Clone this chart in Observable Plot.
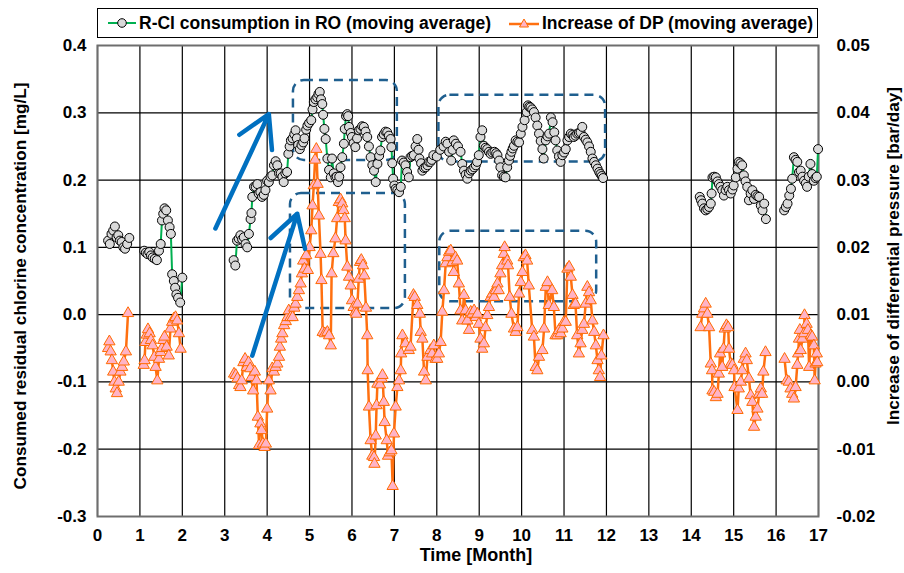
<!DOCTYPE html>
<html><head><meta charset="utf-8">
<script src="https://cdn.jsdelivr.net/npm/d3@7"></script>
<script src="https://cdn.jsdelivr.net/npm/@observablehq/plot@0.6"></script>
<style>
body{margin:0;background:#fff;font-family:"Liberation Sans",Arial,sans-serif;}
#legend{position:relative;height:40px;width:904px;}
#legend .box{position:absolute;left:97px;top:8px;width:719px;height:28px;border:1.5px solid #000;font-weight:bold;font-size:17.5px;}
#legend .item{position:absolute;top:0;height:28px;display:flex;align-items:center;white-space:nowrap;}
#legend svg{margin-right:3px;}
</style></head><body>
<div id="legend"><div class="box">
<div class="item" style="left:10px"><svg width="28" height="14"><line x1="0" x2="28" y1="7" y2="7" stroke="#00B050" stroke-width="2"/><circle cx="14" cy="7" r="4.3" fill="#D9D9D9" stroke="#000" stroke-width="1"/></svg><span>R-Cl consumption in RO (moving average)</span></div>
<div class="item" style="left:411px"><svg width="30" height="14"><line x1="0" x2="30" y1="8" y2="8" stroke="#FF7010" stroke-width="2.5"/><path d="M15,3 L19.5,11 L10.5,11 Z" fill="#FFB3C6" stroke="#FF6A00" stroke-width="1"/></svg><span>Increase of DP (moving average)</span></div>
</div></div>
<div id="chart"></div>
<script>
// ---------- axis ticks ----------
const xTickValues = [0,1,2,3,4,5,6,7,8,9,10,11,12,13,14,15,16,17];
const xTickLabels = ["0","1","2","3","4","5","6","7","8","9","10","11","12","13","14","15","16","17"];
const leftTickValues = [-0.3,-0.2,-0.1,0.0,0.1,0.2,0.3,0.4];
const leftTickLabels = ["-0.3","-0.2","-0.1","0.0","0.1","0.2","0.3","0.4"];
const rightTickValues = [-0.02,-0.01,0.00,0.01,0.02,0.03,0.04,0.05];
const rightTickLabels = ["-0.02","-0.01","0.00","0.01","0.02","0.03","0.04","0.05"];
const leftTitle = "Consumed residual chlorine concentration [mg/L]";
const rightTitle = "Increase of differential pressure [bar/day]";
const xTitle = "Time [Month]";

// ---------- R-Cl consumption in RO (moving average) [mg/L]: [month, value] ----------
const rclSeg1 = [[0.25,0.110],[0.29,0.105],[0.33,0.120],[0.37,0.125],[0.41,0.131],[0.45,0.115],[0.49,0.118],[0.53,0.110],[0.57,0.108],[0.61,0.100],[0.65,0.098],[0.70,0.105],[0.75,0.114]];
const rclSeg2 = [[1.10,0.095],[1.14,0.092],[1.18,0.090],[1.22,0.093],[1.26,0.088],[1.30,0.085],[1.35,0.083],[1.40,0.081],[1.45,0.095],[1.49,0.105],[1.52,0.140],[1.55,0.150],[1.58,0.158],[1.62,0.155],[1.66,0.140],[1.70,0.130],[1.73,0.120],[1.76,0.060],[1.80,0.050],[1.83,0.040],[1.86,0.030],[1.90,0.025],[1.95,0.018],[2.00,0.055]];
const rclSeg3 = [[3.21,0.081],[3.25,0.073],[3.29,0.110],[3.33,0.113],[3.37,0.118],[3.41,0.112],[3.45,0.115],[3.49,0.105],[3.53,0.100],[3.57,0.120],[3.61,0.142],[3.63,0.151],[3.65,0.175],[3.69,0.190],[3.73,0.190],[3.77,0.194],[3.80,0.180],[3.84,0.182],[3.88,0.175],[3.92,0.178],[3.96,0.185],[4.00,0.199],[4.04,0.197],[4.08,0.205],[4.12,0.207],[4.16,0.222],[4.20,0.228],[4.24,0.222],[4.28,0.210],[4.32,0.210],[4.36,0.205],[4.39,0.197],[4.43,0.210],[4.47,0.212],[4.50,0.239],[4.53,0.250],[4.56,0.259],[4.60,0.262],[4.64,0.268],[4.67,0.274],[4.70,0.262],[4.73,0.252],[4.77,0.246],[4.81,0.252],[4.85,0.256],[4.88,0.262],[4.92,0.275],[4.95,0.281],[4.99,0.285],[5.04,0.289],[5.07,0.305],[5.10,0.316],[5.14,0.320],[5.18,0.323],[5.21,0.328],[5.24,0.331],[5.27,0.320],[5.30,0.313],[5.32,0.297],[5.35,0.276],[5.38,0.261],[5.42,0.232],[5.46,0.215],[5.50,0.204],[5.53,0.232],[5.57,0.210],[5.61,0.204],[5.64,0.205],[5.67,0.197],[5.70,0.205],[5.73,0.219],[5.77,0.234],[5.81,0.254],[5.83,0.276],[5.86,0.295],[5.89,0.298],[5.91,0.295],[5.93,0.279],[5.97,0.270],[6.00,0.264],[6.04,0.255],[6.08,0.249],[6.12,0.262],[6.16,0.274],[6.20,0.276],[6.24,0.280],[6.28,0.279],[6.32,0.272],[6.36,0.264],[6.40,0.250],[6.44,0.234],[6.48,0.222],[6.52,0.214],[6.56,0.197],[6.60,0.224],[6.64,0.236],[6.67,0.244],[6.71,0.264],[6.75,0.268],[6.79,0.272],[6.83,0.271],[6.87,0.266],[6.91,0.261],[6.93,0.249],[6.95,0.225],[6.97,0.202],[7.00,0.192],[7.03,0.187],[7.07,0.185],[7.11,0.182],[7.15,0.190],[7.18,0.229],[7.22,0.226],[7.26,0.222],[7.30,0.212],[7.34,0.204],[7.38,0.234],[7.42,0.236],[7.46,0.237],[7.50,0.250],[7.54,0.261],[7.57,0.245],[7.59,0.232],[7.63,0.225],[7.66,0.214],[7.70,0.218],[7.74,0.219],[7.78,0.222],[7.81,0.227],[7.85,0.227],[7.88,0.230],[7.92,0.237],[8.00,0.235],[8.08,0.245],[8.16,0.250],[8.21,0.257],[8.25,0.254],[8.29,0.242],[8.34,0.229],[8.37,0.245],[8.40,0.259],[8.45,0.254],[8.50,0.250],[8.56,0.242],[8.60,0.224],[8.64,0.214],[8.68,0.208],[8.72,0.202],[8.76,0.210],[8.80,0.214],[8.84,0.216],[8.88,0.219],[8.92,0.222],[8.95,0.227],[8.99,0.237],[9.03,0.264],[9.07,0.274],[9.11,0.251],[9.15,0.248],[9.19,0.246],[9.23,0.242],[9.27,0.239],[9.31,0.241],[9.36,0.242],[9.40,0.240],[9.43,0.237],[9.47,0.229],[9.50,0.219],[9.54,0.207],[9.58,0.205],[9.62,0.204],[9.66,0.219],[9.70,0.229],[9.73,0.236],[9.76,0.242],[9.79,0.247],[9.82,0.251],[9.86,0.259],[9.90,0.257],[9.94,0.256],[9.98,0.269],[10.02,0.279],[10.07,0.289],[10.12,0.301],[10.15,0.311],[10.18,0.309],[10.21,0.308],[10.25,0.305],[10.29,0.301],[10.33,0.293],[10.37,0.281],[10.41,0.269],[10.45,0.258],[10.49,0.246],[10.52,0.232],[10.57,0.259],[10.61,0.265],[10.65,0.269],[10.69,0.293],[10.73,0.286],[10.77,0.271],[10.80,0.259],[10.84,0.244],[10.88,0.235],[10.92,0.227],[10.96,0.237],[11.00,0.241],[11.04,0.246],[11.08,0.259],[11.12,0.264],[11.16,0.269],[11.20,0.267],[11.23,0.264],[11.27,0.266],[11.31,0.269],[11.35,0.270],[11.39,0.271],[11.43,0.279],[11.47,0.264],[11.51,0.260],[11.55,0.256],[11.59,0.250],[11.63,0.242],[11.67,0.232],[11.71,0.227],[11.75,0.222],[11.79,0.217],[11.83,0.212],[11.86,0.209],[11.89,0.206],[11.92,0.203]];
const rclSeg4 = [[14.20,0.175],[14.23,0.170],[14.26,0.165],[14.30,0.158],[14.34,0.155],[14.38,0.157],[14.42,0.160],[14.46,0.165],[14.48,0.180],[14.50,0.204],[14.54,0.205],[14.58,0.204],[14.62,0.198],[14.65,0.194],[14.69,0.190],[14.73,0.185],[14.77,0.177],[14.81,0.185],[14.85,0.190],[14.89,0.185],[14.93,0.180],[14.97,0.186],[15.00,0.192],[15.05,0.204],[15.09,0.217],[15.12,0.227],[15.16,0.225],[15.20,0.222],[15.24,0.207],[15.28,0.198],[15.32,0.190],[15.36,0.170],[15.40,0.180],[15.44,0.185],[15.48,0.172],[15.52,0.178],[15.56,0.176],[15.60,0.175],[15.64,0.162],[15.68,0.155],[15.72,0.165],[15.76,0.142]];
const rclSeg5 = [[16.19,0.155],[16.23,0.160],[16.27,0.165],[16.31,0.177],[16.35,0.187],[16.38,0.202],[16.42,0.234],[16.46,0.230],[16.50,0.227],[16.54,0.212],[16.58,0.214],[16.62,0.205],[16.66,0.199],[16.70,0.195],[16.73,0.190],[16.77,0.205],[16.81,0.224],[16.85,0.209],[16.89,0.199],[16.93,0.203],[16.96,0.205],[16.99,0.246]];

// ---------- Increase of DP (moving average) [bar/day]: [month, value] ----------
const dpSeg1 = [[0.25,0.0050],[0.28,0.0060],[0.31,0.0045],[0.34,0.0032],[0.37,0.0015],[0.40,0.0000],[0.43,-0.0010],[0.46,-0.0017],[0.50,0.0000],[0.54,0.0015],[0.58,0.0022],[0.62,0.0030],[0.67,0.0045],[0.72,0.0102]];
const dpSeg2 = [[1.09,0.0025],[1.11,0.0032],[1.13,0.0059],[1.16,0.0070],[1.19,0.0078],[1.23,0.0072],[1.26,0.0062],[1.30,0.0054],[1.34,0.0037],[1.37,0.0022],[1.41,0.0002],[1.45,0.0034],[1.49,0.0044],[1.52,0.0050],[1.55,0.0062],[1.58,0.0067],[1.63,0.0052],[1.68,0.0039],[1.72,0.0079],[1.76,0.0089],[1.80,0.0094],[1.84,0.0096],[1.88,0.0091],[1.92,0.0072],[1.96,0.0049]];
const dpSeg3 = [[3.22,0.0012],[3.26,0.0010],[3.30,0.0005],[3.34,-0.0005],[3.37,-0.0008],[3.40,0.0002],[3.44,0.0029],[3.48,0.0034],[3.52,0.0022],[3.56,0.0029],[3.60,0.0020],[3.63,0.0007],[3.67,-0.0013],[3.71,0.0015],[3.75,0.0002],[3.78,-0.0052],[3.81,-0.0094],[3.84,-0.0062],[3.87,-0.0072],[3.90,-0.0092],[3.94,-0.0097],[3.97,-0.0092],[4.00,-0.0040],[4.04,0.0002],[4.08,-0.0013],[4.12,0.0020],[4.16,0.0015],[4.20,0.0022],[4.24,0.0027],[4.28,0.0037],[4.30,0.0052],[4.33,0.0064],[4.36,0.0072],[4.40,0.0084],[4.44,0.0090],[4.48,0.0096],[4.51,0.0106],[4.55,0.0096],[4.60,0.0096],[4.64,0.0110],[4.67,0.0116],[4.71,0.0126],[4.75,0.0136],[4.79,0.0146],[4.82,0.0161],[4.85,0.0180],[4.88,0.0168],[4.92,0.0188],[4.96,0.0166],[5.00,0.0200],[5.04,0.0225],[5.07,0.0262],[5.10,0.0292],[5.13,0.0330],[5.16,0.0346],[5.19,0.0294],[5.22,0.0247],[5.26,0.0190],[5.28,0.0151],[5.31,0.0074],[5.36,0.0072],[5.42,0.0074],[5.46,0.0069],[5.50,0.0054],[5.52,0.0161],[5.56,0.0191],[5.61,0.0213],[5.65,0.0243],[5.69,0.0267],[5.73,0.0271],[5.77,0.0265],[5.80,0.0255],[5.83,0.0243],[5.85,0.0210],[5.89,0.0171],[5.93,0.0156],[5.97,0.0143],[6.00,0.0121],[6.04,0.0111],[6.08,0.0104],[6.10,0.0101],[6.13,0.0116],[6.16,0.0153],[6.19,0.0178],[6.22,0.0181],[6.26,0.0173],[6.29,0.0158],[6.33,0.0110],[6.36,0.0069],[6.37,0.0017],[6.40,-0.0037],[6.44,-0.0087],[6.48,-0.0110],[6.52,-0.0112],[6.53,-0.0122],[6.56,-0.0080],[6.58,-0.0035],[6.60,-0.0003],[6.66,-0.0004],[6.70,0.0005],[6.72,0.0010],[6.75,-0.0030],[6.77,-0.0060],[6.82,-0.0087],[6.85,-0.0110],[6.89,-0.0105],[6.93,-0.0102],[6.96,-0.0155],[6.99,-0.0077],[7.03,-0.0037],[7.07,-0.0008],[7.11,0.0002],[7.15,0.0017],[7.16,0.0042],[7.19,0.0069],[7.26,0.0057],[7.34,0.0047],[7.38,0.0052],[7.45,0.0129],[7.48,0.0126],[7.54,0.0114],[7.60,0.0101],[7.62,0.0074],[7.66,0.0064],[7.70,0.0015],[7.74,0.0002],[7.78,0.0037],[7.85,0.0047],[7.89,0.0042],[7.93,0.0054],[7.97,0.0034],[8.01,0.0034],[8.05,0.0042],[8.09,0.0059],[8.13,0.0104],[8.17,0.0136],[8.21,0.0176],[8.25,0.0185],[8.29,0.0193],[8.33,0.0195],[8.37,0.0178],[8.40,0.0163],[8.44,0.0185],[8.48,0.0180],[8.52,0.0146],[8.56,0.0106],[8.60,0.0091],[8.64,0.0129],[8.68,0.0106],[8.72,0.0091],[8.76,0.0077],[8.80,0.0104],[8.84,0.0101],[8.88,0.0106],[8.92,0.0096],[8.96,0.0101],[8.99,0.0086],[9.03,0.0064],[9.07,0.0049],[9.11,0.0057],[9.15,0.0081],[9.19,0.0099],[9.23,0.0111],[9.27,0.0126],[9.31,0.0131],[9.35,0.0126],[9.39,0.0136],[9.43,0.0146],[9.46,0.0136],[9.50,0.0161],[9.54,0.0173],[9.58,0.0190],[9.60,0.0200],[9.66,0.0180],[9.68,0.0173],[9.72,0.0126],[9.76,0.0101],[9.82,0.0079],[9.86,0.0074],[9.90,0.0081],[9.94,0.0131],[9.98,0.0148],[10.02,0.0163],[10.05,0.0185],[10.09,0.0188],[10.13,0.0180],[10.17,0.0143],[10.25,0.0077],[10.29,0.0067],[10.33,0.0022],[10.37,0.0017],[10.41,0.0037],[10.49,0.0047],[10.53,0.0079],[10.57,0.0141],[10.61,0.0148],[10.64,0.0114],[10.72,0.0136],[10.76,0.0111],[10.80,0.0069],[10.84,0.0069],[10.88,0.0077],[10.92,0.0072],[10.96,0.0079],[11.00,0.0089],[11.04,0.0089],[11.08,0.0168],[11.12,0.0171],[11.16,0.0156],[11.20,0.0129],[11.23,0.0114],[11.27,0.0116],[11.31,0.0069],[11.35,0.0042],[11.39,0.0057],[11.43,0.0077],[11.47,0.0086],[11.51,0.0116],[11.55,0.0141],[11.59,0.0133],[11.63,0.0121],[11.67,0.0091],[11.71,0.0074],[11.75,0.0054],[11.79,0.0032],[11.82,0.0017],[11.85,0.0007],[11.88,0.0039],[11.93,0.0069]];
const dpSeg4 = [[14.22,0.0081],[14.26,0.0101],[14.30,0.0109],[14.34,0.0116],[14.38,0.0101],[14.42,0.0081],[14.46,0.0027],[14.49,0.0017],[14.50,-0.0013],[14.54,-0.0015],[14.58,-0.0023],[14.62,-0.0018],[14.65,0.0012],[14.68,0.0042],[14.73,0.0022],[14.76,0.0049],[14.79,0.0079],[14.83,0.0084],[14.87,0.0081],[14.89,0.0049],[14.93,0.0027],[14.97,0.0025],[15.01,0.0017],[15.02,-0.0008],[15.09,-0.0042],[15.12,-0.0010],[15.17,0.0000],[15.20,0.0017],[15.24,0.0034],[15.28,0.0042],[15.31,0.0032],[15.36,0.0005],[15.40,-0.0020],[15.44,-0.0030],[15.48,-0.0067],[15.52,-0.0052],[15.56,-0.0040],[15.60,-0.0018],[15.64,-0.0010],[15.67,-0.0018],[15.70,0.0015],[15.75,0.0044]];
const dpSeg5 = [[16.20,0.0034],[16.25,0.0002],[16.30,0.0000],[16.34,-0.0010],[16.38,-0.0018],[16.42,-0.0025],[16.46,-0.0008],[16.50,0.0025],[16.52,0.0042],[16.54,0.0064],[16.56,0.0077],[16.58,0.0047],[16.62,0.0064],[16.66,0.0072],[16.67,0.0099],[16.72,0.0086],[16.75,0.0077],[16.78,0.0022],[16.82,0.0069],[16.85,0.0067],[16.89,0.0054],[16.91,0.0002],[16.93,0.0027],[16.96,0.0042],[16.97,0.0029]];

// ---------- annotations (data units: month, mg/L) ----------
const arrowFromMonth = [2.78, 3.65];
const arrowFromValue = [0.128, -0.061];
const arrowToMonth = [4.04, 4.71];
const arrowToValue = [0.298, 0.150];
const boxFromMonth = [4.62, 4.55, 8.05, 8.07];
const boxToMonth = [7.07, 7.26, 11.98, 11.77];
const boxTopValue = [0.348, 0.180, 0.326, 0.124];
const boxBottomValue = [0.229, 0.009, 0.227, 0.019];

// right axis (bar/day) -> left axis (mg/L)
const dpToLeft = r => (r - 0.01) / 0.1;
const rightTickPos = rightTickValues.map(dpToLeft);

const toRows = (segs) => segs.flatMap((s, k) => s.map(([m, v]) => ({month: m, value: v, seg: k})));
const rcl = toRows([rclSeg1, rclSeg2, rclSeg3, rclSeg4, rclSeg5]);
const dp = toRows([dpSeg1, dpSeg2, dpSeg3, dpSeg4, dpSeg5]);
const arrows = arrowFromMonth.map((_, i) => ({x1: arrowFromMonth[i], y1: arrowFromValue[i], x2: arrowToMonth[i], y2: arrowToValue[i]}));
const boxes = boxFromMonth.map((_, i) => ({x1: boxFromMonth[i], x2: boxToMonth[i], y1: boxBottomValue[i], y2: boxTopValue[i]}));

const font = "'Liberation Sans', Arial, sans-serif";
const chart = Plot.plot({
  width: 904, height: 533,
  marginLeft: 97, marginRight: 86, marginTop: 5, marginBottom: 57,
  x: {domain: [0, 17]},
  y: {domain: [-0.3, 0.4]},
  style: {fontFamily: font, fontWeight: "bold", fontSize: "17px", color: "#000", background: "#fff", overflow: "visible"},
  marks: [
    Plot.gridX(xTickValues, {stroke: "#000", strokeOpacity: 1, strokeWidth: 1.2}),
    Plot.gridY(leftTickValues, {stroke: "#000", strokeOpacity: 1, strokeWidth: 1.2}),
    Plot.frame({stroke: "#6e6e6e", strokeWidth: 2}),
    Plot.axisX(xTickValues, {tickSize: 0, tickPadding: 12, tickFormat: d => xTickLabels[xTickValues.indexOf(d)], label: null}),
    Plot.axisY(leftTickValues, {anchor: "left", tickSize: 0, tickPadding: 11, tickFormat: d => leftTickLabels[leftTickValues.indexOf(d)], label: null}),
    Plot.axisY(rightTickPos, {anchor: "right", tickSize: 0, tickPadding: 18, tickFormat: d => rightTickLabels[rightTickPos.indexOf(d)], label: null}),
    Plot.text([xTitle], {frameAnchor: "bottom", dy: 44, dx: 18, fontSize: 18, fontWeight: "bold"}),
    Plot.text([leftTitle], {frameAnchor: "left", dx: -77, dy: 5, rotate: -90, textAnchor: "middle", fontSize: 17.2, fontWeight: "bold"}),
    Plot.text([rightTitle], {frameAnchor: "right", dx: 75, dy: -25, rotate: -90, textAnchor: "middle", fontSize: 17.2, fontWeight: "bold"}),
    Plot.rect(boxes, {x1: "x1", x2: "x2", y1: "y1", y2: "y2", rx: 11, fill: "none", stroke: "#1F5F8F", strokeWidth: 2.5, strokeDasharray: "9,6"}),
    Plot.line(dp, {x: "month", y: d => dpToLeft(d.value), z: "seg", stroke: "#FF7010", strokeWidth: 2.5}),
    Plot.dot(dp, {x: "month", y: d => dpToLeft(d.value), symbol: "triangle", r: 4.2, fill: "#FFB3C6", stroke: "#FF6A00", strokeWidth: 1}),
    Plot.line(rcl, {x: "month", y: "value", z: "seg", stroke: "#00B050", strokeWidth: 2}),
    Plot.dot(rcl, {x: "month", y: "value", r: 4.5, fill: "#D9D9D9", stroke: "#000", strokeWidth: 1}),
    Plot.arrow(arrows, {x1: "x1", y1: "y1", x2: "x2", y2: "y2", stroke: "#0070C0", strokeWidth: 4.5, headLength: 12, headAngle: 60})
  ]
});
document.getElementById("chart").appendChild(chart);
</script>
</body></html>
